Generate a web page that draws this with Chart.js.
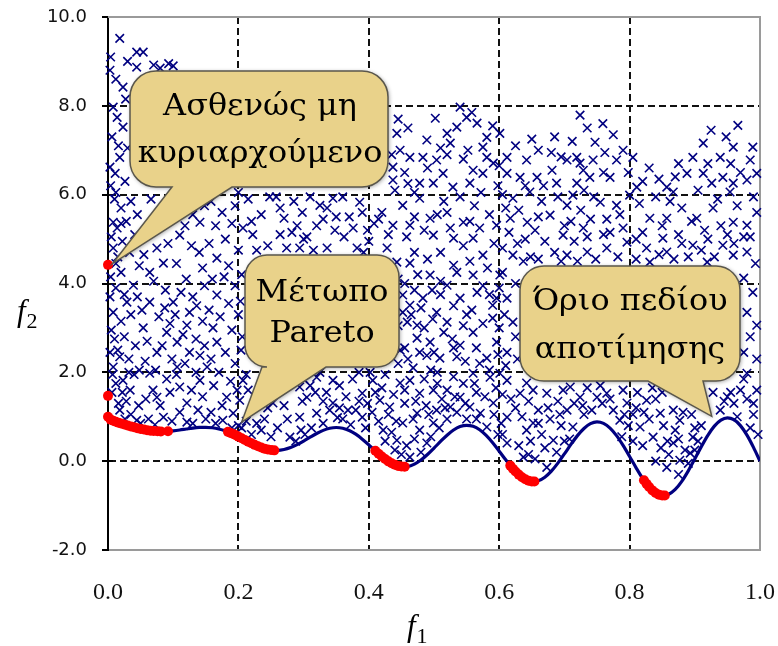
<!DOCTYPE html>
<html>
<head>
<meta charset="utf-8">
<title>f1 – f2</title>
<script src="https://cdn.jsdelivr.net/npm/chart.js@4.4.1/dist/chart.umd.min.js"></script>
<style>
  html, body { margin: 0; padding: 0; background: #ffffff; }
  #wrap { width: 778px; height: 646px; }
</style>
</head>
<body>
<div id="wrap"><canvas id="chart" width="778" height="646"></canvas></div>
<script>
// ---- axis ticks ----
const f1Ticks = [0.0, 0.2, 0.4, 0.6, 0.8, 1.0];
const f2Ticks = [-2, 0, 2, 4, 6, 8, 10];

// ---- boundary of the objective space (f1, f2) ----
const boundaryF1 = [0, 0.005, 0.01, 0.02, 0.03, 0.04, 0.05, 0.06, 0.07, 0.08, 0.09,
  0.10, 0.11, 0.12, 0.13, 0.14, 0.15, 0.16, 0.17, 0.18, 0.19,
  0.20, 0.21, 0.22, 0.23, 0.24, 0.25, 0.26, 0.27, 0.28, 0.29,
  0.30, 0.31, 0.32, 0.33, 0.34, 0.35, 0.36, 0.37, 0.38, 0.39,
  0.40, 0.41, 0.42, 0.43, 0.44, 0.45, 0.46, 0.47, 0.48, 0.49,
  0.50, 0.51, 0.52, 0.53, 0.54, 0.55, 0.56, 0.57, 0.58, 0.59,
  0.60, 0.61, 0.62, 0.63, 0.64, 0.65, 0.66, 0.67, 0.68, 0.69,
  0.70, 0.71, 0.72, 0.73, 0.74, 0.75, 0.76, 0.77, 0.78, 0.79,
  0.80, 0.81, 0.82, 0.83, 0.84, 0.85, 0.86, 0.87, 0.88, 0.89,
  0.90, 0.91, 0.92, 0.93, 0.94, 0.95, 0.96, 0.97, 0.98, 0.99, 1.00];
const boundaryF2 = [1.000, 0.929, 0.897, 0.847, 0.803, 0.762, 0.726, 0.698, 0.679, 0.670, 0.672,
  0.684, 0.702, 0.724, 0.745, 0.759, 0.763, 0.752, 0.725, 0.682, 0.623,
  0.553, 0.477, 0.402, 0.334, 0.282, 0.250, 0.243, 0.262, 0.306, 0.372,
  0.452, 0.539, 0.622, 0.693, 0.740, 0.758, 0.742, 0.691, 0.607, 0.496,
  0.368, 0.233, 0.105, -0.004, -0.082, -0.121, -0.116, -0.066, 0.025, 0.149,
  0.293, 0.444, 0.585, 0.701, 0.779, 0.808, 0.784, 0.706, 0.579, 0.414,
  0.225, 0.031, -0.152, -0.303, -0.409, -0.456, -0.440, -0.361, -0.224, -0.044,
  0.163, 0.377, 0.575, 0.736, 0.844, 0.884, 0.851, 0.745, 0.575, 0.355,
  0.106, -0.150, -0.388, -0.583, -0.715, -0.772, -0.745, -0.637, -0.455, -0.218,
  0.051, 0.327, 0.582, 0.788, 0.924, 0.975, 0.933, 0.800, 0.586, 0.311, 0.000];

// ---- non-dominated (Pareto) solutions, plus the weakly dominated ones at f1 = 0 ----
const paretoF1 = [0, 0, 0, 0.004, 0.008, 0.012, 0.016, 0.02, 0.025, 0.03, 0.035, 0.04, 0.045,
  0.05, 0.055, 0.06, 0.065, 0.07, 0.076, 0.081, 0.092,
  0.184, 0.188, 0.192, 0.196, 0.2, 0.205, 0.21, 0.215, 0.22, 0.225, 0.23, 0.235, 0.24, 0.245, 0.25, 0.255,
  0.41, 0.415, 0.42, 0.425, 0.43, 0.435, 0.44, 0.445, 0.45, 0.455,
  0.617, 0.621, 0.625, 0.63, 0.635, 0.64, 0.645, 0.65, 0.654,
  0.822, 0.826, 0.83, 0.835, 0.84, 0.845, 0.85, 0.854];
const paretoF2 = [4.42, 1.47, 1.0, 0.936, 0.909, 0.886, 0.866, 0.847, 0.824, 0.803, 0.782, 0.762, 0.743,
  0.726, 0.711, 0.698, 0.687, 0.679, 0.672, 0.670, 0.674,
  0.660, 0.636, 0.610, 0.582, 0.553, 0.515, 0.477, 0.439, 0.402, 0.367, 0.334, 0.306, 0.282, 0.263, 0.250, 0.243,
  0.233, 0.167, 0.105, 0.048, -0.004, -0.047, -0.082, -0.107, -0.121, -0.124,
  -0.100, -0.169, -0.233, -0.303, -0.363, -0.409, -0.440, -0.456, -0.458,
  -0.431, -0.511, -0.583, -0.658, -0.715, -0.754, -0.772, -0.771];

// ---- evaluated solutions [f1, f2] ----
const solutions = [
  [0.018,9.52],[0.044,9.21],[0.003,8.8],[0.023,8.42],[0.044,8.87],[0.008,7.97],[0.014,7.74],[0.023,7.52],
  [0.018,6.84],[0.003,6.62],[0.011,6.48],[0.008,5.38],[0.014,5.25],[0.008,4.8],[0.01,5.9],[0.02,5.7],
  [0.039,3.96],[0.029,3.58],[0.008,3.35],[0.003,2.45],[0.008,2.12],[0.023,1.82],[0.034,1.6],[0.018,1.15],
  [0.044,0.92],[0.004,9.1],[0.012,8.6],[0.027,8.15],[0.006,7.3],[0.03,7.05],[0.016,7.1],[0.004,6.2],
  [0.026,6.3],[0.012,6.05],[0.035,5.85],[0.045,5.55],[0.028,5.4],[0.005,5.05],[0.022,4.95],[0.041,5.1],
  [0.015,4.6],[0.033,4.7],[0.048,4.4],[0.004,4.15],[0.02,4.25],[0.012,3.9],[0.045,3.7],[0.02,3.15],
  [0.035,3.3],[0.005,2.95],[0.025,2.8],[0.042,2.6],[0.015,2.5],[0.032,2.3],[0.048,2.05],[0.012,1.75],
  [0.04,1.95],[0.006,1.55],[0.028,1.35],[0.047,1.25],[0.016,1.3],[0.035,1.05],[0.026,0.95],[0.05,0.85],
  [0.01,2.75],[0.003,3.7],[0.03,9.0],[0.012,4.45],[0.025,3.75],[0.018,2.35],[0.032,2.0],[0.007,1.95],
  [0.022,1.55],[0.02,5.35],
  [0.054,9.21],[0.08,8.85],[0.1,8.9],[0.07,8.92],[0.093,8.95],[0.085,4.46],[0.064,4.25],[0.064,3.58],
  [0.1,3.58],[0.054,3.0],[0.09,2.9],[0.075,2.45],[0.064,1.98],[0.069,1.6],[0.075,1.44],[0.085,0.99],
  [0.095,5.6],[0.075,4.8],[0.055,4.65],[0.092,4.9],[0.07,4.05],[0.088,3.85],[0.052,3.4],[0.078,3.25],
  [0.095,3.1],[0.06,2.7],[0.083,2.6],[0.098,2.3],[0.057,2.25],[0.073,2.05],[0.09,1.85],[0.058,1.4],
  [0.08,1.25],[0.095,1.55],[0.062,0.95],[0.072,0.82],[0.098,0.9],[0.087,3.45],[0.066,5.9],
  [0.11,5.09],[0.141,5.38],[0.14,4.7],[0.12,4.1],[0.136,3.5],[0.121,3.06],[0.106,2.68],[0.141,2.38],
  [0.106,2.12],[0.11,1.67],[0.121,1.31],[0.141,1.82],[0.152,2.12],[0.121,0.88],[0.13,5.55],[0.148,5.75],
  [0.118,5.3],[0.128,4.85],[0.105,4.45],[0.145,4.35],[0.112,3.8],[0.13,3.7],[0.148,3.95],[0.103,3.3],
  [0.125,3.35],[0.145,3.15],[0.115,2.85],[0.135,2.75],[0.125,2.45],[0.148,2.6],[0.118,2.2],[0.135,2.0],
  [0.105,1.95],[0.128,1.6],[0.145,1.45],[0.11,1.1],[0.138,1.15],[0.15,0.95],[0.13,0.85],
  [0.18,5.0],[0.167,4.57],[0.16,4.1],[0.167,3.74],[0.161,3.0],[0.167,2.68],[0.176,0.92],[0.182,1.44],
  [0.192,1.08],[0.2,6.05],[0.158,5.85],[0.175,5.6],[0.195,5.75],[0.165,5.3],[0.19,5.35],[0.2,4.75],
  [0.185,4.4],[0.155,4.9],[0.178,4.15],[0.195,3.95],[0.155,3.4],[0.185,3.55],[0.2,3.3],[0.172,3.25],
  [0.19,2.95],[0.158,2.3],[0.18,2.45],[0.195,2.2],[0.17,2.0],[0.188,1.8],[0.162,1.7],[0.175,1.25],
  [0.198,1.6],[0.158,1.1],[0.165,0.85],[0.2,0.8],[0.19,0.75],
  [0.207,5.25],[0.202,1.37],[0.207,1.82],[0.253,1.31],[0.215,5.9],[0.235,5.55],[0.248,5.95],[0.222,5.1],
  [0.245,4.85],[0.228,4.75],[0.205,4.2],[0.203,3.6],[0.206,2.8],[0.204,2.5],[0.212,1.95],[0.24,0.95],
  [0.235,0.7],[0.25,0.55],[0.228,0.85],[0.245,1.2],[0.212,0.9],[0.205,0.75],[0.22,0.6],[0.215,1.6],
  [0.22,5.4],
  [0.264,5.7],[0.27,5.47],[0.29,5.3],[0.264,5.1],[0.274,4.8],[0.294,4.8],[0.279,0.54],[0.294,0.99],
  [0.294,1.67],[0.258,5.95],[0.285,5.85],[0.298,5.6],[0.282,5.15],[0.3,1.85],[0.27,1.25],[0.26,0.75],
  [0.275,0.95],[0.288,0.45],[0.296,0.7],[0.298,1.35],[0.3,5.0],
  [0.305,1.44],[0.32,1.08],[0.32,1.89],[0.325,5.76],[0.32,5.3],[0.336,5.7],[0.336,4.8],[0.345,5.92],
  [0.34,1.15],[0.345,1.82],[0.345,1.31],[0.31,5.95],[0.305,5.05],[0.33,5.45],[0.315,4.75],[0.348,5.2],
  [0.312,0.75],[0.33,0.85],[0.31,1.7],[0.335,1.55],[0.325,2.0],[0.302,0.6],[0.33,1.35],[0.318,1.55],
  [0.352,0.98],[0.35,5.5],
  [0.386,5.83],[0.39,5.6],[0.376,5.25],[0.382,4.8],[0.39,1.53],[0.39,0.99],[0.36,5.95],[0.37,5.5],
  [0.398,5.2],[0.362,5.05],[0.392,4.7],[0.365,1.45],[0.375,1.85],[0.355,1.2],[0.38,1.15],[0.395,0.75],
  [0.36,0.95],[0.372,0.82],[0.398,1.3],[0.385,2.0],[0.355,1.7],[0.368,1.15],[0.385,1.35],
  [0.408,5.35],[0.42,5.6],[0.437,5.31],[0.428,4.8],[0.443,4.48],[0.406,1.82],[0.417,1.37],[0.432,1.22],
  [0.448,1.76],[0.422,0.7],[0.443,0.47],[0.452,0.86],[0.443,7.38],[0.448,7.0],[0.437,6.62],[0.437,6.33],
  [0.435,6.9],[0.445,7.7],[0.44,6.1],[0.415,5.45],[0.4,4.95],[0.445,4.1],[0.445,3.05],[0.448,2.5],
  [0.445,2.2],[0.41,1.55],[0.425,1.95],[0.43,1.05],[0.415,0.9],[0.435,0.65],[0.44,0.25],[0.45,0.15],
  [0.425,0.45],[0.402,2.0],[0.438,1.5],[0.405,1.1],[0.42,1.65],[0.442,0.9],[0.43,5.1],
  [0.452,5.76],[0.463,5.31],[0.478,5.92],[0.494,5.47],[0.499,5.09],[0.463,4.46],[0.494,4.19],[0.483,3.67],
  [0.474,3.06],[0.494,2.68],[0.478,2.45],[0.459,3.13],[0.474,2.77],[0.489,2.38],[0.463,1.82],[0.478,1.53],
  [0.499,1.6],[0.474,1.08],[0.478,0.7],[0.499,0.86],[0.463,0.09],[0.489,0.41],[0.463,6.84],[0.483,6.84],
  [0.478,6.26],[0.489,7.23],[0.46,7.5],[0.455,6.5],[0.47,6.05],[0.49,6.6],[0.458,5.05],[0.485,5.2],
  [0.47,4.7],[0.49,4.55],[0.455,4.0],[0.475,4.2],[0.497,3.85],[0.465,3.3],[0.485,3.0],[0.498,3.2],
  [0.455,2.55],[0.468,2.1],[0.495,2.05],[0.455,1.3],[0.488,1.25],[0.47,0.5],[0.458,0.35],[0.495,0.55],
  [0.48,0.2],[0.468,0.95],[0.485,1.85],[0.452,3.74],[0.452,3.35],[0.463,3.51],[0.499,6.26],[0.455,1.6],
  [0.472,1.35],[0.492,1.05],[0.46,2.3],[0.48,3.45],[0.47,3.85],[0.47,5.5],[0.46,6.25],
  [0.502,7.72],[0.504,6.78],[0.52,7.38],[0.535,7.52],[0.525,7.16],[0.54,7.97],[0.55,7.74],[0.514,6.48],
  [0.529,6.17],[0.525,5.25],[0.53,5.02],[0.545,5.38],[0.53,4.41],[0.52,3.96],[0.54,3.67],[0.504,3.35],
  [0.52,3.13],[0.54,2.61],[0.509,2.32],[0.52,1.6],[0.54,1.44],[0.525,1.22],[0.504,1.15],[0.51,7.05],
  [0.545,6.8],[0.515,5.85],[0.54,5.95],[0.505,5.55],[0.51,4.7],[0.545,4.85],[0.535,4.25],[0.51,4.05],
  [0.53,3.5],[0.515,2.9],[0.545,3.05],[0.528,2.75],[0.548,2.25],[0.505,2.0],[0.53,1.9],[0.512,1.4],
  [0.535,1.1],[0.508,0.75],[0.52,0.95],[0.545,1.75],[0.55,0.95],[0.505,1.75],[0.517,1.2],[0.532,1.45],
  [0.548,1.3],[0.5,2.45],[0.535,2.35],[0.51,3.75],[0.55,3.3],[0.53,2.55],[0.52,5.6],[0.52,6.9],
  [0.552,7.0],[0.566,7.61],[0.575,7.07],[0.581,7.29],[0.581,6.84],[0.591,6.71],[0.575,6.48],[0.555,6.26],
  [0.572,6.05],[0.56,5.02],[0.596,5.31],[0.575,4.64],[0.56,4.19],[0.601,4.19],[0.566,3.8],[0.596,3.67],
  [0.56,2.9],[0.59,3.22],[0.59,3.51],[0.596,2.68],[0.581,2.32],[0.56,1.98],[0.586,1.89],[0.555,1.22],
  [0.571,1.08],[0.581,0.77],[0.591,1.31],[0.558,7.85],[0.59,7.55],[0.598,6.2],[0.562,5.75],[0.585,5.55],
  [0.57,5.25],[0.592,4.9],[0.555,4.5],[0.582,4.35],[0.575,3.95],[0.558,3.4],[0.575,3.1],[0.565,2.55],
  [0.585,2.05],[0.598,2.4],[0.565,1.55],[0.595,1.65],[0.598,0.6],[0.565,0.95],[0.562,1.75],[0.578,1.45],
  [0.592,1.05],[0.57,2.2],[0.6,3.0],[0.585,3.75],[0.555,5.4],[0.56,6.55],
  [0.601,7.38],[0.612,6.84],[0.642,6.78],[0.632,6.39],[0.658,6.39],[0.612,6.48],[0.617,5.47],[0.643,5.38],
  [0.621,5.92],[0.647,6.06],[0.621,4.64],[0.637,4.5],[0.612,3.67],[0.621,3.13],[0.612,2.45],[0.601,1.98],
  [0.612,1.82],[0.632,1.53],[0.612,0.99],[0.612,0.41],[0.637,0.09],[0.642,0.7],[0.652,0.86],[0.652,1.6],
  [0.642,1.76],[0.605,6.0],[0.63,5.65],[0.615,5.15],[0.64,5.0],[0.605,4.8],[0.628,4.9],[0.648,4.6],
  [0.605,4.25],[0.625,4.0],[0.608,3.3],[0.625,2.8],[0.61,2.15],[0.628,2.3],[0.605,1.5],[0.625,1.2],
  [0.645,1.35],[0.605,0.6],[0.63,0.35],[0.645,0.15],[0.625,7.1],[0.65,7.25],[0.603,0.85],[0.618,1.4],
  [0.635,1.0],[0.648,0.45],[0.6,3.9],[0.61,5.7],[0.6,6.65],[0.64,6.2],
  [0.668,6.2],[0.681,6.55],[0.688,6.26],[0.678,5.54],[0.698,5.09],[0.673,1.53],[0.683,0.47],[0.673,-0.14],
  [0.66,7.0],[0.685,7.3],[0.695,6.85],[0.665,5.85],[0.69,5.95],[0.655,5.2],[0.67,4.95],[0.685,4.7],
  [0.66,4.55],[0.695,4.5],[0.69,1.35],[0.66,1.15],[0.678,0.95],[0.695,0.8],[0.665,0.6],[0.688,0.2],
  [0.67,0.3],[0.655,0.05],[0.698,1.6],[0.66,0.85],[0.675,1.2],[0.693,1.05],[0.66,5.5],[0.68,6.95],
  [0.704,6.78],[0.719,6.84],[0.724,6.71],[0.729,6.55],[0.744,6.78],[0.739,6.39],[0.719,6.26],[0.747,7.18],
  [0.724,7.79],[0.713,5.99],[0.704,5.76],[0.729,5.25],[0.735,4.71],[0.704,4.64],[0.704,1.15],[0.713,0.77],
  [0.709,1.67],[0.724,1.44],[0.75,1.44],[0.735,7.5],[0.712,7.2],[0.745,5.95],[0.725,5.65],[0.71,5.4],
  [0.74,5.45],[0.715,4.95],[0.748,4.55],[0.72,4.5],[0.735,1.65],[0.742,1.15],[0.73,1.05],[0.708,0.5],
  [0.7,0.45],[0.715,1.3],[0.728,1.25],[0.7,5.3],[0.735,5.05],[0.73,6.1],
  [0.759,7.6],[0.78,6.78],[0.77,6.39],[0.755,5.83],[0.78,5.76],[0.8,5.99],[0.79,5.25],[0.796,4.93],
  [0.765,4.8],[0.765,1.53],[0.775,1.15],[0.785,0.92],[0.796,1.31],[0.775,7.35],[0.79,7.0],[0.762,6.95],
  [0.798,6.5],[0.765,5.45],[0.785,5.55],[0.76,5.1],[0.782,4.6],[0.755,1.7],[0.79,1.6],[0.798,0.8],
  [0.788,0.55],[0.758,1.3],[0.77,1.4],[0.792,1.05],[0.77,5.15],[0.76,6.5],
  [0.805,6.84],[0.811,6.17],[0.831,5.47],[0.826,4.8],[0.851,5.02],[0.831,4.48],[0.826,1.37],[0.816,0.77],
  [0.836,0.54],[0.847,1.08],[0.83,6.6],[0.845,6.35],[0.815,5.8],[0.84,5.95],[0.82,5.15],[0.845,4.65],
  [0.81,4.55],[0.835,1.65],[0.81,1.2],[0.82,0.35],[0.84,0.0],[0.805,0.45],[0.83,0.95],[0.848,0.3],
  [0.812,1.55],[0.805,1.05],[0.822,1.1],[0.84,1.4],[0.81,5.0],[0.85,5.3],[0.82,6.3],
  [0.857,6.17],[0.888,6.48],[0.897,6.84],[0.857,5.47],[0.867,6.06],[0.857,4.71],[0.897,4.86],[0.867,1.15],
  [0.877,0.92],[0.867,0.41],[0.877,0.02],[0.857,-0.14],[0.897,0.54],[0.893,0.18],[0.875,6.7],[0.862,5.85],
  [0.88,5.7],[0.895,5.4],[0.875,5.1],[0.868,4.55],[0.89,4.6],[0.85,1.55],[0.895,1.05],[0.87,0.7],
  [0.885,0.25],[0.86,0.15],[0.89,-0.05],[0.875,-0.3],[0.852,0.8],[0.858,0.45],[0.875,0.5],[0.882,1.1],
  [0.88,4.9],[0.87,6.4],
  [0.903,5.47],[0.913,7.16],[0.913,6.48],[0.926,6.26],[0.939,6.84],[0.943,6.39],[0.928,5.7],[0.919,4.48],
  [0.943,4.86],[0.939,1.15],[0.925,7.45],[0.948,7.3],[0.905,6.1],[0.935,5.9],[0.915,5.2],[0.94,5.3],
  [0.91,4.75],[0.93,4.6],[0.91,0.8],[0.905,0.45],[0.945,1.35],[0.928,1.55],[0.9,0.75],[0.9,0.25],
  [0.95,1.45],[0.92,5.0],[0.92,6.7],
  [0.959,7.07],[0.989,7.07],[0.985,6.78],[0.995,6.48],[0.959,6.26],[0.98,6.33],[0.966,7.56],[0.954,6.06],
  [0.959,5.38],[0.98,5.31],[0.995,5.6],[0.959,4.64],[0.98,4.71],[0.975,4.12],[0.989,3.8],[0.98,3.35],
  [0.995,3.06],[0.985,0.75],[0.98,1.98],[0.995,1.6],[0.975,1.85],[0.955,6.7],[0.99,5.95],[0.965,5.75],
  [0.975,5.05],[0.96,4.9],[0.993,4.45],[0.985,2.8],[0.975,2.45],[0.995,2.3],[0.98,1.4],[0.99,1.05],
  [0.96,1.3],[0.997,0.6],[0.955,1.55],[0.965,1.0],[0.99,1.3],[0.97,1.6],[0.95,5.1],[0.985,5.05],[0.97,6.5]
];

// ---- callout texts ----
const calloutText = [
  ['Ασθενώς μη', 'κυριαρχούμενο'],
  ['Μέτωπο', 'Pareto'],
  ['Όριο πεδίου', 'αποτίμησης']
];

// callout boxes in canvas pixels, tips in data units
const calloutLayout = [
  { l: 130, t: 71,  r: 388, b: 187, rad: 26, p1: 172, p2: 232, tip: [0.007, 4.45], cx: 260, lineY: [107, 154] },
  { l: 245, t: 255, r: 399, b: 367, rad: 22, p1: 262, p2: 326, tip: [0.205, 0.88], cx: 322, lineY: [293, 334] },
  { l: 520, t: 266, r: 740, b: 381, rad: 24, p1: 648, p2: 703, tip: [0.926, 1.01], cx: 630, lineY: [302, 350] }
];

const NAVY = '#000080';

function drawCallout(ctx, chart, c, lines) {
  const tx = chart.scales.x.getPixelForValue(c.tip[0]);
  const ty = chart.scales.y.getPixelForValue(c.tip[1]);
  const { l, t, r, b, rad, p1, p2 } = c;
  ctx.save();
  ctx.beginPath();
  ctx.moveTo(l + rad, t);
  ctx.lineTo(r - rad, t);
  ctx.arcTo(r, t, r, t + rad, rad);
  ctx.lineTo(r, b - rad);
  ctx.arcTo(r, b, r - rad, b, rad);
  ctx.lineTo(p2, b);
  ctx.lineTo(tx, ty);
  ctx.lineTo(p1, b);
  ctx.lineTo(l + rad, b);
  ctx.arcTo(l, b, l, b - rad, rad);
  ctx.lineTo(l, t + rad);
  ctx.arcTo(l, t, l + rad, t, rad);
  ctx.closePath();
  ctx.shadowColor = 'rgba(0,0,0,0.4)';
  ctx.shadowBlur = 4;
  ctx.shadowOffsetX = 1;
  ctx.shadowOffsetY = 1;
  ctx.fillStyle = '#e9d28a';
  ctx.fill();
  ctx.shadowColor = 'transparent';
  ctx.lineWidth = 1.5;
  ctx.strokeStyle = '#5a574c';
  ctx.stroke();
  ctx.fillStyle = '#000000';
  ctx.font = '29px "DejaVu Serif"';
  ctx.textAlign = 'center';
  ctx.textBaseline = 'middle';
  lines.forEach((txt, i) => {
    ctx.save();
    ctx.translate(c.cx, c.lineY[i]);
    ctx.scale(1.1, 1);
    ctx.fillText(txt, 0, 0);
    ctx.restore();
  });
  ctx.restore();
}

function drawAxisTitle(ctx, x, y, sub) {
  ctx.save();
  ctx.fillStyle = '#000000';
  ctx.textBaseline = 'alphabetic';
  ctx.textAlign = 'left';
  ctx.font = 'italic 31px "Liberation Serif"';
  ctx.fillText('f', x, y);
  const w = ctx.measureText('f').width;
  ctx.font = '22px "Liberation Serif"';
  ctx.fillText(sub, x + w + 1, y + 7);
  ctx.restore();
}

const decorations = {
  id: 'decorations',
  beforeDatasetsDraw(chart) {
    const { ctx, chartArea: a, scales } = chart;
    ctx.save();
    // plot frame (top, right)
    ctx.strokeStyle = '#9a9a9a';
    ctx.lineWidth = 2;
    ctx.beginPath();
    ctx.moveTo(a.left, a.top);
    ctx.lineTo(a.right, a.top);
    ctx.lineTo(a.right, a.bottom);
    ctx.stroke();
    // short outside tick marks on the f2 axis
    ctx.strokeStyle = '#000000';
    ctx.beginPath();
    f2Ticks.forEach(v => {
      const y = Math.round(scales.y.getPixelForValue(v));
      ctx.moveTo(a.left - 6, y);
      ctx.lineTo(v === 0 ? a.left + 5 : a.left, y);
    });
    ctx.stroke();
    ctx.restore();
  },
  afterDatasetsDraw(chart) {
    const ctx = chart.ctx;
    calloutLayout.forEach((c, i) => drawCallout(ctx, chart, c, calloutText[i]));
  },
  afterDraw(chart) {
    const ctx = chart.ctx;
    drawAxisTitle(ctx, 17, 321, '2');
    drawAxisTitle(ctx, 407, 636, '1');
  }
};

new Chart(document.getElementById('chart').getContext('2d'), {
  type: 'scatter',
  data: {
    datasets: [
      {
        label: 'Μέτωπο Pareto',
        data: paretoF1.map((x, i) => ({ x, y: paretoF2[i] })),
        pointStyle: 'circle',
        pointRadius: 5,
        backgroundColor: '#ff0000',
        borderColor: '#ff0000',
        borderWidth: 0,
        order: 0,
        clip: false
      },
      {
        label: 'Όριο πεδίου αποτίμησης',
        type: 'line',
        data: boundaryF1.map((x, i) => ({ x, y: boundaryF2[i] })),
        borderColor: NAVY,
        borderWidth: 3.2,
        pointRadius: 0,
        fill: false,
        cubicInterpolationMode: 'monotone',
        order: 1
      },
      {
        label: 'Λύσεις',
        data: solutions.map(([x, y]) => ({ x, y })),
        pointStyle: 'crossRot',
        pointRadius: 6,
        borderColor: NAVY,
        backgroundColor: NAVY,
        borderWidth: 1.6,
        order: 2,
        clip: false
      }
    ]
  },
  options: {
    responsive: false,
    animation: false,
    devicePixelRatio: 1,
    events: [],
    layout: { padding: { top: 17, right: 18, left: 0, bottom: 0 } },
    plugins: { legend: { display: false }, tooltip: { enabled: false } },
    scales: {
      x: {
        type: 'linear',
        min: 0,
        max: 1,
        afterBuildTicks: s => { s.ticks = f1Ticks.map(v => ({ value: v })); },
        afterFit: s => { s.height = 96; },
        grid: {
          color: c => (c.tick && (c.tick.value === 0 || c.tick.value === 1)) ? 'transparent' : '#111111',
          lineWidth: 2,
          drawTicks: true,
          tickLength: 28,
          tickColor: 'transparent'
        },
        border: { display: true, color: '#9a9a9a', width: 2, dash: [7, 4] },
        ticks: {
          padding: 0,
          autoSkip: false,
          maxRotation: 0,
          color: '#111111',
          font: { family: '"Liberation Serif"', size: 24 },
          callback: v => Number(v).toFixed(1)
        }
      },
      y: {
        type: 'linear',
        min: -2,
        max: 10,
        afterBuildTicks: s => { s.ticks = f2Ticks.map(v => ({ value: v })); },
        afterFit: s => { s.width = 108; },
        grid: {
          color: c => (c.tick && (c.tick.value === -2 || c.tick.value === 10)) ? 'transparent' : '#111111',
          lineWidth: 2,
          drawTicks: true,
          tickLength: 21,
          tickColor: 'transparent'
        },
        border: { display: true, color: '#000000', width: 2, dash: [7, 4] },
        ticks: {
          padding: 0,
          color: '#111111',
          font: { family: '"DejaVu Sans"', size: 18 },
          callback: v => Number(v).toFixed(1)
        }
      }
    }
  },
  plugins: [decorations]
});
</script>
</body>
</html>
